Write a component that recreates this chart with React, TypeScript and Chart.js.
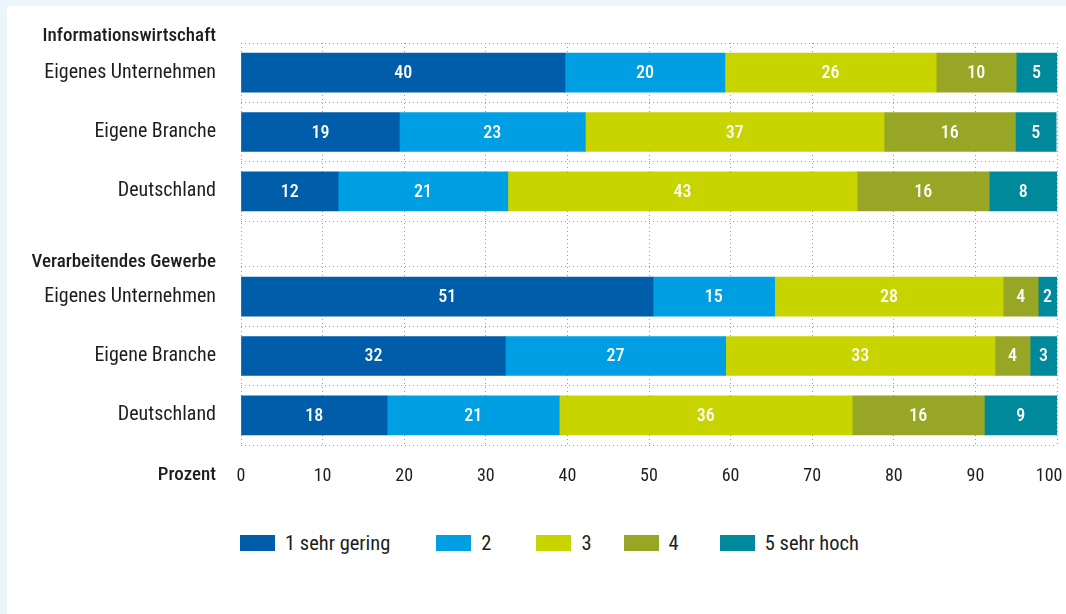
import React, { useEffect, useRef } from 'react';
import { Chart, registerables } from 'chart.js';

Chart.register(...registerables);

const FONT = "'Roboto Condensed', 'DejaVu Sans Condensed', 'Liberation Sans Narrow', Roboto, sans-serif";
const TEXT = '#1d1d1b';

// y-axis rows (labels, incl. group headers and the x-axis caption "Prozent")
const ROW_LABELS = [
  'Informationswirtschaft',
  'Eigenes Unternehmen',
  'Eigene Branche',
  'Deutschland',
  'Verarbeitendes Gewerbe',
  'Eigenes Unternehmen',
  'Eigene Branche',
  'Deutschland',
  'Prozent',
];
const ROW_BOLD = [true, false, false, false, true, false, false, false, true];
const ROW_POS = [-0.12, 0.5, 1.5, 2.5, 3.69, 4.275, 5.275, 6.275, 7.29];

// bar rows and row boundaries
const BAR_POS = [0.5, 1.5, 2.5, 4.275, 5.275, 6.275];
const GRID_POS = [0, 1, 2, 3, 3.775, 4.775, 5.775, 6.775];
const Y_MIN = 0;
const Y_MAX = 6.775;

// series (shares in percent)
const SERIES_NAMES = ['1 sehr gering', '2', '3', '4', '5 sehr hoch'];
const COLORS = ['#005DAA', '#009FE3', '#C8D400', '#97A624', '#00899A'];
const S1 = [39.7, 19.4, 11.9, 50.5, 32.4, 17.9];
const S2 = [19.6, 22.8, 20.8, 14.9, 27.0, 21.1];
const S3 = [25.9, 36.6, 42.8, 28.0, 33.0, 35.9];
const S4 = [9.8, 16.1, 16.2, 4.3, 4.3, 16.2];
const S5 = [5.0, 5.0, 8.3, 2.3, 3.3, 8.9];
const SERIES = [S1, S2, S3, S4, S5];

const X_MIN = 0;
const X_MAX = 100;
const X_STEP = 10;

const GRID_COLOR = '#9a9a9a';
const LEGEND_GAPS = [46, 45, 32, 41, 0];

const valueLabels = {
  id: 'valueLabels',
  afterDatasetsDraw(chart: any) {
    const ctx = chart.ctx;
    ctx.save();
    ctx.fillStyle = '#ffffff';
    ctx.font = `500 18px ${FONT}`;
    ctx.textAlign = 'center';
    ctx.textBaseline = 'middle';
    chart.data.datasets.forEach((ds: any, di: number) => {
      const meta = chart.getDatasetMeta(di);
      meta.data.forEach((el: any, i: number) => {
        const v = ds.data[i].x;
        const cx = (el.x + el.base) / 2;
        ctx.fillText(String(Math.round(v)), cx, el.y + 1);
      });
    });
    ctx.restore();
  },
};

export default function App() {
  const ref = useRef<HTMLCanvasElement | null>(null);

  useEffect(() => {
    if (!ref.current) return;
    const chart = new Chart(ref.current, {
      type: 'bar',
      data: {
        datasets: SERIES.map((s, si) => ({
          label: SERIES_NAMES[si],
          data: s.map((v, i) => ({ x: v, y: BAR_POS[i] })),
          backgroundColor: COLORS[si],
          borderWidth: 0,
          barThickness: 39,
          yAxisID: 'y',
          xAxisID: 'x',
        })),
      },
      options: {
        indexAxis: 'y',
        animation: false,
        responsive: true,
        maintainAspectRatio: false,
        layout: { padding: { top: 43, right: 9, left: 0, bottom: 0 } },
        plugins: {
          legend: { display: false },
          tooltip: { enabled: false },
        },
        scales: {
          x: {
            type: 'linear',
            stacked: true,
            min: X_MIN,
            max: X_MAX,
            position: 'bottom',
            offset: false,
            grid: {
              color: GRID_COLOR,
              lineWidth: 1,
              drawTicks: false,
              offset: false,
            },
            border: { display: false, dash: [1, 3] },
            ticks: {
              stepSize: X_STEP,
              padding: 21,
              color: TEXT,
              font: { family: FONT, size: 18 },
              maxRotation: 0,
              // keep the last label inside the frame
              callback: (v: any) => (v === X_MAX ? `${v}\u2003` : `${v}`),
            },
            afterFit: (s: any) => {
              s.height = 55;
              s.paddingLeft = 0;
              s.paddingRight = 0;
            },
          },
          y: {
            type: 'linear',
            stacked: true,
            reverse: true,
            offset: false,
            min: Y_MIN,
            max: Y_MAX,
            position: 'left',
            grid: {
              color: GRID_COLOR,
              lineWidth: 1,
              drawTicks: false,
              offset: false,
            },
            border: { display: false, dash: [1, 3] },
            ticks: { display: false },
            afterBuildTicks: (s: any) => {
              s.ticks = GRID_POS.map((v) => ({ value: v }));
            },
            afterFit: (s: any) => {
              s.width = 0;
              s.paddingTop = 0;
              s.paddingBottom = 0;
            },
          },
          yl: {
            type: 'linear',
            reverse: true,
            offset: false,
            min: Y_MIN,
            max: Y_MAX,
            position: 'left',
            grid: { display: false, drawTicks: false, offset: false },
            border: { display: false },
            ticks: {
              autoSkip: false,
              padding: 25,
              color: TEXT,
              font: (c: any) => ({
                family: FONT,
                size: ROW_BOLD[c.index] ? 19 : 20,
                weight: ROW_BOLD[c.index] ? '500' : 'normal',
              }),
              callback: (_v: any, i: number) => ROW_LABELS[i],
            },
            afterBuildTicks: (s: any) => {
              s.ticks = ROW_POS.map((v) => ({ value: v }));
            },
            afterFit: (s: any) => {
              s.width = 241;
              s.paddingTop = 0;
              s.paddingBottom = 0;
            },
          },
        },
      } as any,
      plugins: [valueLabels],
    });
    return () => chart.destroy();
  }, []);

  return (
    <div style={{ position: 'fixed', left: 0, top: 0, width: 1066, height: 614, background: '#EAF5FC', overflow: 'hidden' }}>
      <div style={{ position: 'absolute', left: 7, top: 6, right: 0, bottom: 0, background: '#ffffff' }} />
      <div style={{ position: 'absolute', left: 0, top: 0, width: 1066, height: 500 }}>
        <canvas ref={ref} />
      </div>
      <div
        style={{
          position: 'absolute',
          left: 240,
          top: 533,
          display: 'flex',
          alignItems: 'center',
          fontFamily: FONT,
          fontSize: 20.5,
          color: TEXT,
          height: 20,
        }}
      >
        {SERIES_NAMES.map((n, i) => (
          <div key={n} style={{ display: 'flex', alignItems: 'center', marginRight: LEGEND_GAPS[i] }}>
            <span style={{ display: 'inline-block', width: 35, height: 16, background: COLORS[i], marginRight: 10 }} />
            <span style={{ lineHeight: '20px' }}>{n}</span>
          </div>
        ))}
      </div>
    </div>
  );
}
